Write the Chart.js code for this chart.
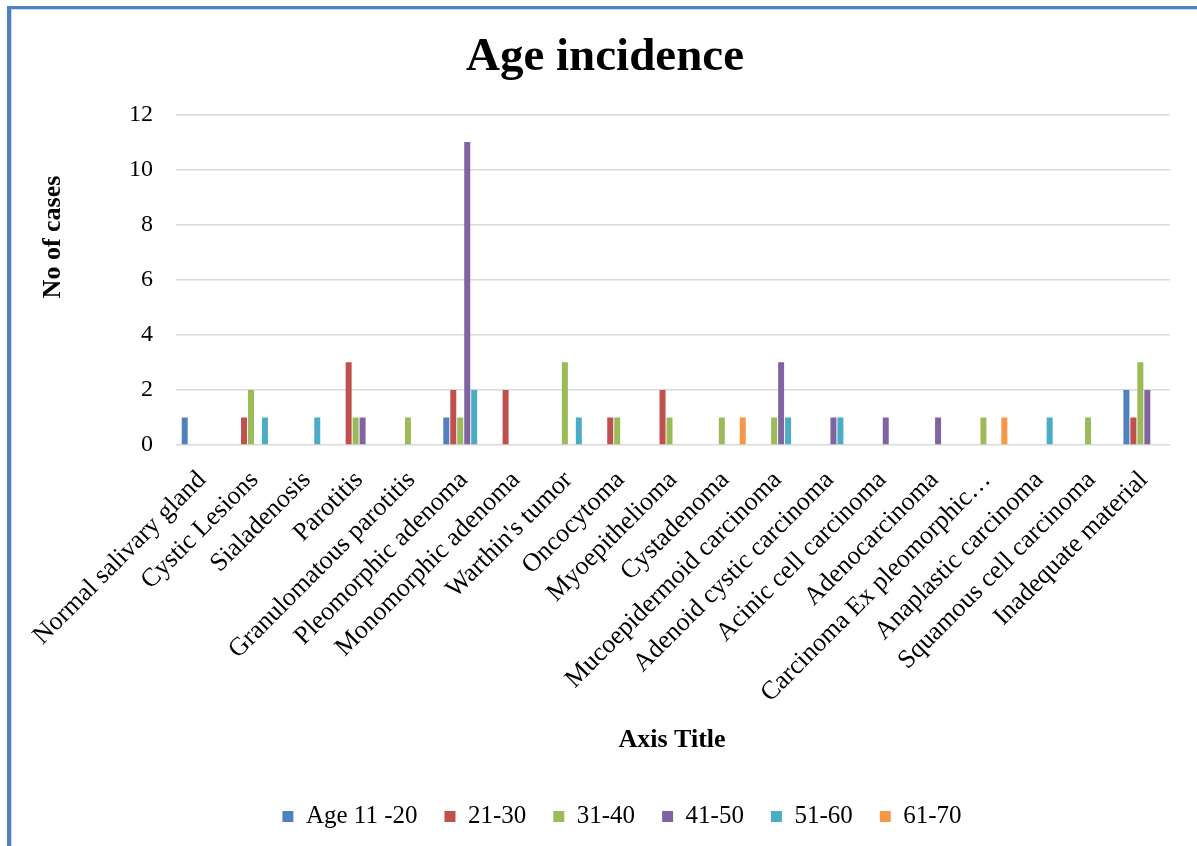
<!DOCTYPE html>
<html>
<head>
<meta charset="utf-8">
<script src="https://cdn.jsdelivr.net/npm/chart.js@4.4.0/dist/chart.umd.min.js"></script>
<style>
  html, body { margin: 0; padding: 0; background: #ffffff; }
  #wrap { position: relative; width: 1197px; height: 846px; overflow: hidden; }
  #frameL { position: absolute; left: 7px; top: 6px; width: 4px; height: 840px; background: #4F81BD; }
  #frameL2 { position: absolute; left: 11px; top: 9px; width: 1px; height: 837px; background: #C6D9F1; }
  #frameT { position: absolute; left: 7px; top: 6px; width: 1190px; height: 3px; background: #4F81BD; }
  #frameT2 { position: absolute; left: 11px; top: 9px; width: 1186px; height: 1px; background: #C6D9F1; }
  canvas { position: absolute; left: 0; top: 0; }
</style>
</head>
<body>
<div id="wrap">
  <canvas id="c" width="1197" height="846"></canvas>
  <div id="frameL"></div><div id="frameL2"></div>
  <div id="frameT"></div><div id="frameT2"></div>
</div>
<script>
const categories = [
  "Normal salivary gland", "Cystic Lesions", "Sialadenosis", "Parotitis",
  "Granulomatous parotitis", "Pleomorphic adenoma", "Monomorphic adenoma",
  "Warthin's tumor", "Oncocytoma", "Myoepithelioma", "Cystadenoma",
  "Mucoepidermoid carcinoma", "Adenoid cystic carcinoma", "Acinic cell carcinoma",
  "Adenocarcinoma", "Carcinoma Ex pleomorphic\u2026", "Anaplastic carcinoma",
  "Squamous cell carcinoma", "Inadequate material"
];
const seriesNames = ["Age 11 -20", "21-30", "31-40", "41-50", "51-60", "61-70"];
const age11_20 = [1,0,0,0,0,1,0,0,0,0,0,0,0,0,0,0,0,0,2];
const age21_30 = [0,1,0,3,0,2,2,0,1,2,0,0,0,0,0,0,0,0,1];
const age31_40 = [0,2,0,1,1,1,0,3,1,1,1,1,0,0,0,1,0,1,3];
const age41_50 = [0,0,0,1,0,11,0,0,0,0,0,3,1,1,1,0,0,0,2];
const age51_60 = [0,1,1,0,0,2,0,1,0,0,0,1,1,0,0,0,1,0,0];
const age61_70 = [0,0,0,0,0,0,0,0,0,0,1,0,0,0,0,1,0,0,0];
const yTicks = [0, 2, 4, 6, 8, 10, 12];

const colors = ["#4F81BD", "#C0504D", "#9BBB59", "#8064A2", "#4BACC6", "#F79646"];
const seriesValues = [age11_20, age21_30, age31_40, age41_50, age51_60, age61_70];
const FONT = "'Liberation Serif', 'Times New Roman', serif";

const datasets = seriesNames.map((name, i) => ({
  label: name,
  data: seriesValues[i],
  backgroundColor: colors[i],
  borderWidth: 0,
  categoryPercentage: 0.80,
  barPercentage: 0.86
}));

const PLOT_LEFT = 176, PLOT_BOTTOM = 445, CANVAS_H = 846;

const extraText = {
  id: 'extraText',
  afterLayout(chart) {
    const t = chart.titleBlock;
    if (t) { const dx = 605 - (t.left + t.right) / 2; t.left += dx; t.right += dx; }
    const l = chart.legend;
    if (l) {
      const dx = 622 - (l.left + l.right) / 2; l.left += dx; l.right += dx;
      l.top -= 7; l.bottom -= 7;
    }
  },
  afterDraw(chart) {
    const ctx = chart.ctx;
    ctx.save();
    ctx.fillStyle = '#000';
    ctx.font = "bold 26px " + FONT;
    ctx.textAlign = 'center';
    ctx.textBaseline = 'middle';
    ctx.fillText('Axis Title', 672, 740);
    ctx.translate(53, 237);
    ctx.rotate(-Math.PI / 2);
    ctx.fillText('No of cases', 0, 0);
    ctx.restore();
  }
};

new Chart(document.getElementById('c'), {
  type: 'bar',
  data: { labels: categories, datasets },
  plugins: [extraText],
  options: {
    responsive: false,
    animation: false,
    layout: { padding: { left: 0, right: 27, top: 0, bottom: 0 } },
    plugins: {
      title: {
        display: true,
        text: 'Age incidence',
        color: '#000',
        font: { family: FONT, size: 47, weight: 'bold' },
        padding: { top: 30, bottom: 28 }
      },
      legend: {
        position: 'bottom',
        labels: {
          color: '#000',
          font: { family: FONT, size: 25 },
          boxWidth: 11,
          boxHeight: 11,
          padding: 27
        }
      },
      tooltip: { enabled: false }
    },
    scales: {
      x: {
        grid: { display: false, drawTicks: false },
        border: { display: false },
        ticks: {
          color: '#000',
          font: { family: FONT, size: 26 },
          minRotation: 45,
          maxRotation: 45,
          autoSkip: false,
          padding: 20
        },
        afterFit(scale) {
          const lh = scale.chart.legend ? scale.chart.legend.height : 50;
          scale.height = CANVAS_H - PLOT_BOTTOM - lh;
        }
      },
      y: {
        min: 0,
        max: 12,
        grid: { color: '#D9D9D9', lineWidth: 1.5, drawTicks: false },
        border: { display: false },
        afterBuildTicks(scale) { scale.ticks = yTicks.map(v => ({ value: v })); },
        ticks: {
          color: '#000',
          font: { family: FONT, size: 24 },
          padding: 23
        },
        afterFit(scale) { scale.width = PLOT_LEFT; }
      }
    }
  }
});
</script>
</body>
</html>
